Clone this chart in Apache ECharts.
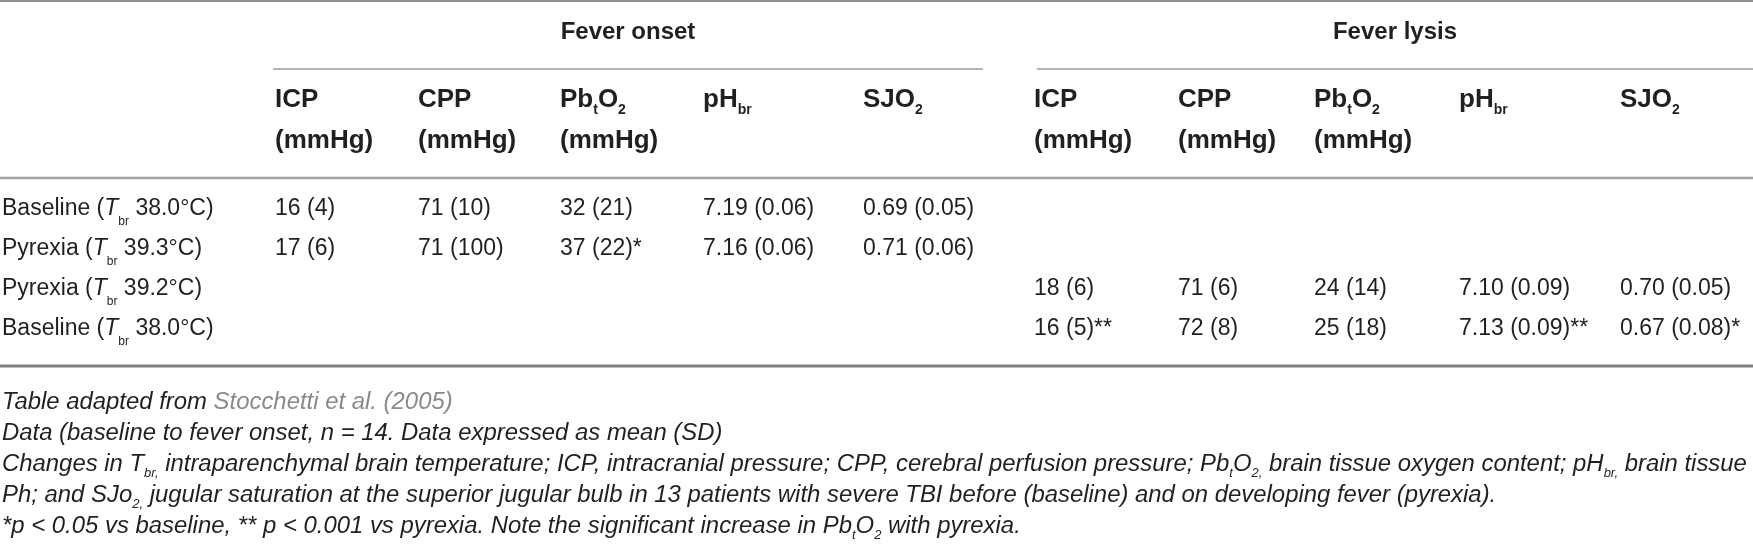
<!DOCTYPE html>
<html>
<head>
<meta charset="utf-8">
<script src="https://cdn.jsdelivr.net/npm/echarts@6/dist/echarts.min.js"></script>
<style>
html,body{margin:0;padding:0;background:#fff;}
#chart{width:1753px;height:544px;}
</style>
</head>
<body>
<div id="chart"></div>
<script>
// ---------------- data ----------------
const groupTitles = ['Fever onset', 'Fever lysis'];
const measureNames = ['ICP', 'CPP', 'Pb{hs|t}O{hs|2}', 'pH{hs|br}', 'SJO{hs|2}'];
const measureUnits = ['(mmHg)', '(mmHg)', '(mmHg)', '', ''];
const measureDecimals = [0, 0, 0, 2, 2];
const rowStates = ['Baseline', 'Pyrexia', 'Pyrexia', 'Baseline'];
const rowTemps = ['38.0', '39.3', '39.2', '38.0'];

const onsetRows = [0, 1];
const onsetMean = [[16, 71, 32, 7.19, 0.69], [17, 71, 37, 7.16, 0.71]];
const onsetSD   = [[4, 10, 21, 0.06, 0.05], [6, 100, 22, 0.06, 0.06]];
const onsetSig  = [['', '', '', '', ''], ['', '', '*', '', '']];

const lysisRows = [2, 3];
const lysisMean = [[18, 71, 24, 7.10, 0.70], [16, 72, 25, 7.13, 0.67]];
const lysisSD   = [[6, 6, 14, 0.09, 0.05], [5, 8, 18, 0.09, 0.08]];
const lysisSig  = [['', '', '', '', ''], ['**', '', '', '**', '*']];

const footnotes = [
  'Table adapted from {g|Stocchetti et al. (2005)}',
  'Data (baseline to fever onset, n = 14. Data expressed as mean (SD)',
  'Changes in T{fs|br,} intraparenchymal brain temperature; ICP, intracranial pressure; CPP, cerebral perfusion pressure; Pb{fs|t}O{fs|2,} brain tissue oxygen content; pH{fs|br,} brain tissue',
  'Ph; and SJo{fs|2,} jugular saturation at the superior jugular bulb in 13 patients with severe TBI before (baseline) and on developing fever (pyrexia).',
  '*p < 0.05 vs baseline, ** p < 0.001 vs pyrexia. Note the significant increase in Pb{fs|t}O{fs|2} with pyrexia.'
];

// ---------------- layout ----------------
const W = 1753, H = 544;
const FONT = "'Liberation Sans', Arial, Helvetica, sans-serif";
const INK = '#231f20';
const labelX = 2;
const groupColX = [[275, 418, 560, 703, 863], [1034, 1178, 1314, 1459, 1620]];
const groupSpan = [[273, 983], [1037, 1753]];
const groupTitleY = 32;
const groupRuleY = 69;
const headLineY = [100, 141];
const rowY = [209, 249, 289, 329];
const footY0 = 402, footStep = 31;
const rules = [
  {x1: 0, x2: W, y: 1, w: 2, c: '#8f8f8f'},
  {x1: groupSpan[0][0], x2: groupSpan[0][1], y: groupRuleY, w: 1.5, c: '#9a9a9a'},
  {x1: groupSpan[1][0], x2: groupSpan[1][1], y: groupRuleY, w: 1.5, c: '#9a9a9a'},
  {x1: 0, x2: W, y: 178, w: 2.5, c: '#a5a5a5'},
  {x1: 0, x2: W, y: 366, w: 3, c: '#808080'}
];

// ---------------- text styles ----------------
const styles = {
  group: {fontSize: 24, fontWeight: 'bold', lineHeight: 32, align: 'center'},
  head:  {fontSize: 26, fontWeight: 'bold', lineHeight: 40, align: 'left'},
  body:  {fontSize: 23, fontWeight: 'normal', lineHeight: 40, align: 'left'},
  foot:  {fontSize: 23.9, fontWeight: 'normal', fontStyle: 'italic', lineHeight: 40, align: 'left'}
};
const rich = {
  hs: {fontFamily: FONT, fontSize: 14, fontWeight: 'bold', lineHeight: 14, padding: [20, 0, 0, 0], verticalAlign: 'middle', fill: INK},
  bi: {fontFamily: FONT, fontSize: 23, fontStyle: 'italic', lineHeight: 40, verticalAlign: 'middle', fill: INK},
  bs: {fontFamily: FONT, fontSize: 12, lineHeight: 12, padding: [25, 0, 0, 0], verticalAlign: 'middle', fill: INK},
  fs: {fontFamily: FONT, fontSize: 13, fontStyle: 'italic', lineHeight: 13, padding: [18, 0, 0, 0], verticalAlign: 'middle', fill: INK},
  g:  {fontFamily: FONT, fontSize: 23.9, fontStyle: 'italic', lineHeight: 40, verticalAlign: 'middle', fill: '#8a8a8a'}
};

// ---------------- build cells ----------------
const cells = [];
function fmt(m, s, d, sig) {
  return m.toFixed(d) + ' (' + s.toFixed(d) + ')' + sig;
}
groupTitles.forEach((t, g) => {
  cells.push({x: (groupSpan[g][0] + groupSpan[g][1]) / 2, y: groupTitleY, text: t, st: 'group'});
  measureNames.forEach((n, k) => {
    cells.push({x: groupColX[g][k], y: headLineY[0], text: n, st: 'head'});
    if (measureUnits[k]) cells.push({x: groupColX[g][k], y: headLineY[1], text: measureUnits[k], st: 'head'});
  });
});
rowStates.forEach((s, r) => {
  cells.push({x: labelX, y: rowY[r], text: s + ' ({bi|T}{bs|br} ' + rowTemps[r] + '°C)', st: 'body'});
});
onsetRows.forEach((r, i) => {
  onsetMean[i].forEach((m, k) => {
    cells.push({x: groupColX[0][k], y: rowY[r], text: fmt(m, onsetSD[i][k], measureDecimals[k], onsetSig[i][k]), st: 'body'});
  });
});
lysisRows.forEach((r, i) => {
  lysisMean[i].forEach((m, k) => {
    cells.push({x: groupColX[1][k], y: rowY[r], text: fmt(m, lysisSD[i][k], measureDecimals[k], lysisSig[i][k]), st: 'body'});
  });
});
footnotes.forEach((f, i) => {
  cells.push({x: labelX, y: footY0 + i * footStep, text: f, st: 'foot'});
});

const chart = echarts.init(document.getElementById('chart'), null, {renderer: 'canvas'});
chart.setOption({
  animation: false,
  backgroundColor: '#ffffff',
  grid: {left: 0, right: 0, top: 0, bottom: 0},
  xAxis: {type: 'value', min: 0, max: W, show: false},
  yAxis: {type: 'value', min: 0, max: H, inverse: true, show: false},
  series: [
    {
      type: 'custom',
      clip: false,
      data: rules.map(r => [r.x1, r.y, r.x2]),
      renderItem: function (params, api) {
        const r = rules[params.dataIndex];
        const p1 = api.coord([api.value(0), api.value(1)]);
        const p2 = api.coord([api.value(2), api.value(1)]);
        return {
          type: 'line',
          shape: {x1: p1[0], y1: p1[1], x2: p2[0], y2: p2[1]},
          style: {stroke: r.c, lineWidth: r.w}
        };
      }
    },
    {
      type: 'custom',
      clip: false,
      data: cells.map(c => [c.x, c.y]),
      renderItem: function (params, api) {
        const c = cells[params.dataIndex];
        const s = styles[c.st];
        const p = api.coord([api.value(0), api.value(1)]);
        return {
          type: 'text',
          x: p[0],
          y: p[1],
          style: {
            text: c.text,
            fontFamily: FONT,
            fontSize: s.fontSize,
            fontWeight: s.fontWeight,
            fontStyle: s.fontStyle || 'normal',
            lineHeight: s.lineHeight,
            fill: INK,
            align: s.align,
            verticalAlign: 'middle',
            rich: rich
          }
        };
      }
    }
  ]
});
</script>
</body>
</html>
